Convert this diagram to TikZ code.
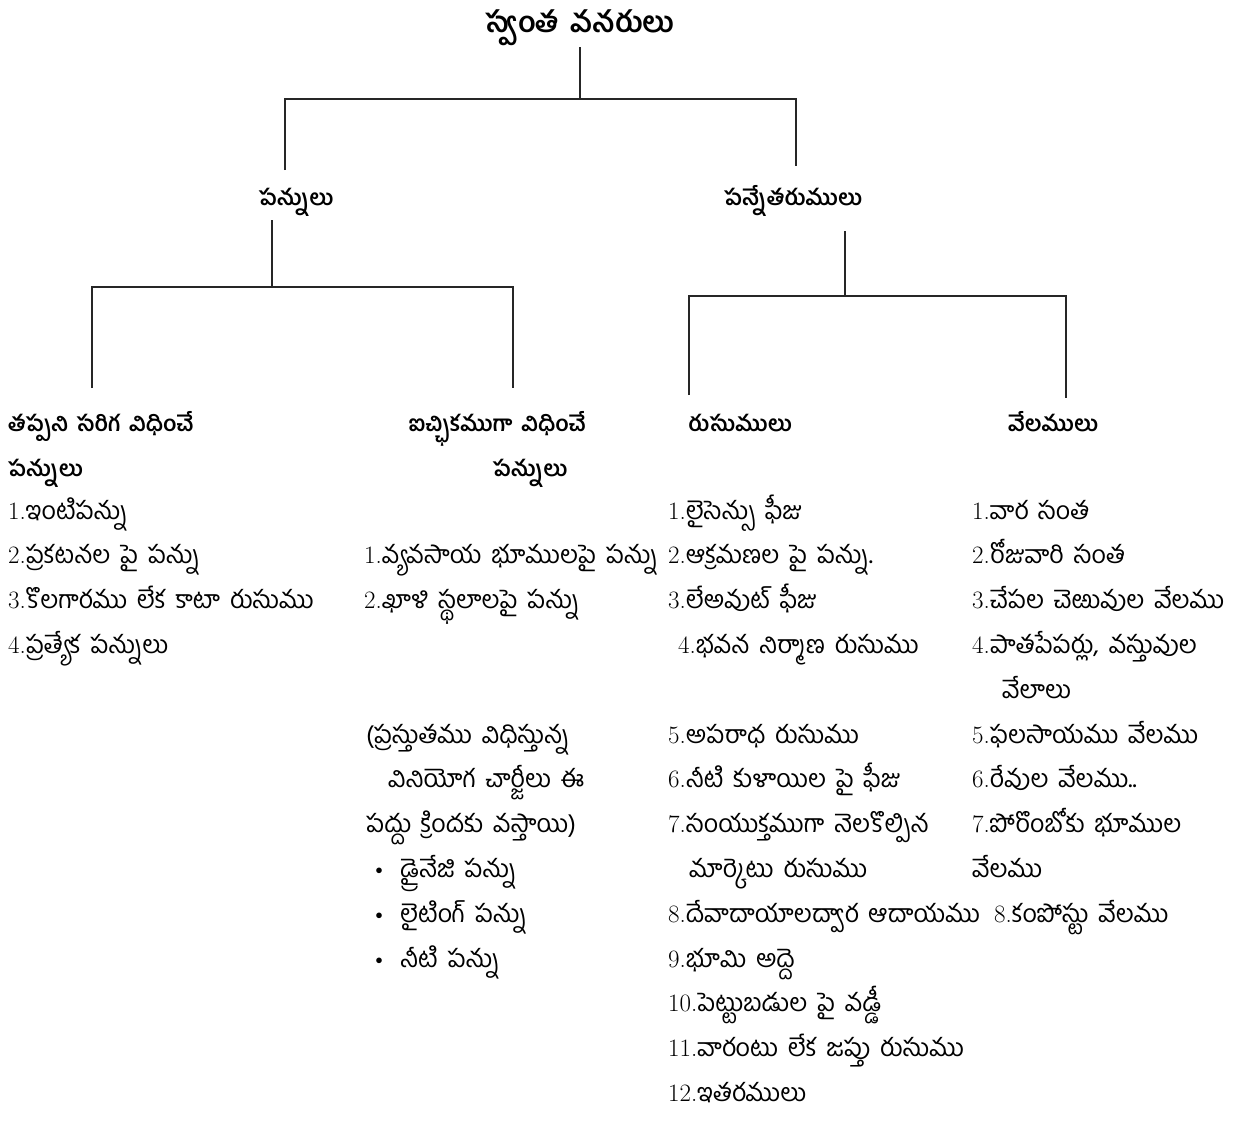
\documentclass[tikz,border=0pt]{standalone}
\usepackage{fontspec}
\newfontfamily\telugu[Script=Telugu, WordSpace=1.6]{Hind Guntur}
\usetikzlibrary{positioning}
\newcommand\itemno[1]{{\rmfamily#1.}}
\newcommand\dotitem{\hspace*{4pt}{\rmfamily\textbullet}\hspace*{12pt}}

\begin{document}
\begin{tikzpicture}[
  x=1pt, y=-1pt,
  branch/.style={draw=black!85, line width=1.8pt},
  title/.style={font=\telugu\bfseries\fontsize{29}{33}\selectfont, inner sep=2pt, anchor=base},
  heading/.style={font=\telugu\bfseries\fontsize{22}{26}\selectfont, inner sep=0pt, anchor=base},
  entry/.style={font=\telugu\fontsize{25}{29}\selectfont, inner sep=0pt, anchor=base west}
]
  \useasboundingbox (0,0) rectangle (1237,1120);

  % Root and second level
  \node[title]   (root)   at (580,32)  {స్వంత వనరులు};
  \node[heading] (taxes)  at (296,205) {పన్నులు};
  \node[heading] (nontax) at (793,205) {పన్నేతరుములు};

  % Third level
  \node[heading, anchor=base west] (comp)  at (8,431)   {తప్పని సరిగ విధించే};
  \node[heading, anchor=base west] (compb) at (8,476)   {పన్నులు};
  \node[heading, anchor=base east] (opt)   at (586,431) {ఐచ్ఛికముగా విధించే};
  \node[heading]                   (optb)  at (530,476) {పన్నులు};
  \node[heading]                   (fees)  at (740,431) {రుసుములు};
  \node[heading]                   (auct)  at (1053,431) {వేలములు};

  % Branches
  \coordinate (b1L) at (285,170);
  \coordinate (b1R) at (796,99);
  \coordinate (b1Re) at (796,166);
  \draw[branch] (root.south) -- (root.south |- b1R);
  \draw[branch] (b1L) |- (b1R) -- (b1Re);

  \coordinate (b2) at (272,287);
  \coordinate (b2L) at (92,388);
  \coordinate (b2R) at (513,287);
  \coordinate (b2Re) at (513,388);
  \draw[branch] ([yshift=-4pt]taxes.south -| b2) -- (b2);
  \draw[branch] (b2L) |- (b2R) -- (b2Re);

  \coordinate (b3) at (845,296);
  \coordinate (b3L) at (689,395);
  \coordinate (b3R) at (1066,296);
  \coordinate (b3Re) at (1066,398);
  \draw[branch] ([yshift=-15pt]nontax.south -| b3) -- (b3);
  \draw[branch] (b3L) |- (b3R) -- (b3Re);

  % Compulsory taxes
  \foreach \txt [count=\k from 0] in {%
      {\itemno1ఇంటిపన్ను},
      {\itemno2ప్రకటనల పై పన్ను},
      {\itemno3కొలగారము లేక కాటా రుసుము},
      {\itemno4ప్రత్యేక పన్నులు}}
    \node[entry] (comp-\k) at (8,{519+44.8*\k}) {\txt};

  % Optional taxes
  \foreach \txt [count=\k from 1] in {%
      {\itemno1వ్యవసాయ భూములపై పన్ను},
      {\itemno2ఖాళి స్థలాలపై పన్ను}}
    \node[entry] (opt-\k) at (364,{519+44.8*\k}) {\txt};
  \foreach \txt [count=\k from 5] in {%
      {(ప్రస్తుతము విధిస్తున్న},
      {\hspace*{22pt}వినియోగ చార్జీలు ఈ},
      {పద్దు క్రిందకు వస్తాయి)},
      {\dotitem డ్రైనేజి పన్ను},
      {\dotitem లైటింగ్ పన్ను},
      {\dotitem నీటి పన్ను}}
    \node[entry] (opt-\k) at (366,{519+44.8*\k}) {\txt};

  % Fees
  \foreach \txt [count=\k from 0] in {%
      {\itemno1లైసెన్సు ఫీజు},
      {\itemno2ఆక్రమణల పై పన్ను.},
      {\itemno3లేఅవుట్ ఫీజు},
      {\hspace*{10pt}\itemno4భవన నిర్మాణ రుసుము}}
    \node[entry] (fee-\k) at (668,{519+44.8*\k}) {\txt};
  \foreach \txt [count=\k from 5] in {%
      {\itemno5అపరాధ రుసుము},
      {\itemno6నీటి కుళాయిల పై ఫీజు},
      {\itemno7సంయుక్తముగా నెలకొల్పిన},
      {\hspace*{21pt}మార్కెటు రుసుము},
      {\itemno8దేవాదాయాలద్వార ఆదాయము},
      {\itemno9భూమి అద్దె},
      {\itemno{10}పెట్టుబడుల పై వడ్డీ},
      {\itemno{11}వారంటు లేక జప్తు రుసుము},
      {\itemno{12}ఇతరములు}}
    \node[entry] (fee-\k) at (668,{519+44.8*\k}) {\txt};

  % Auctions
  \foreach \txt [count=\k from 0] in {%
      {\itemno1వార సంత},
      {\itemno2రోజువారి సంత},
      {\itemno3చేపల చెఱువుల వేలము},
      {\itemno4పాతపేపర్లు, వస్తువుల},
      {\hspace*{30pt}వేలాలు}}
    \node[entry] (auc-\k) at (972,{519+44.8*\k}) {\txt};
  \foreach \txt [count=\k from 5] in {%
      {\itemno5ఫలసాయము వేలము},
      {\itemno6రేవుల వేలము..},
      {\itemno7పోరొంబోకు భూముల},
      {వేలము},
      {\hspace*{22pt}\itemno8కంపోస్టు వేలము}}
    \node[entry] (auc-\k) at (972,{519+44.8*\k}) {\txt};

\end{tikzpicture}
\end{document}
